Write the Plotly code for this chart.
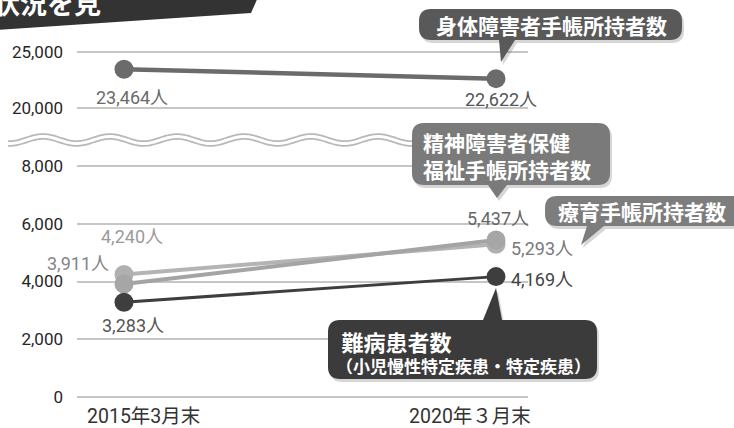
import numpy as np
import plotly.graph_objects as go

W, H = 734, 428

# ---------------- data ----------------
periods = ["2015年3月末", "2020年３月末"]
shintai = [23464, 22622]      # 身体障害者手帳所持者数
seishin = [3911, 5437]        # 精神障害者保健福祉手帳所持者数
ryoiku = [4240, 5293]         # 療育手帳所持者数
nanbyo = [3283, 4169]         # 難病患者数
upper_ticks = [20000, 25000]
lower_ticks = [0, 2000, 4000, 6000, 8000]
unit = "人"
name_shintai = "身体障害者手帳所持者数"
name_seishin = ["精神障害者保健", "福祉手帳所持者数"]
name_ryoiku = "療育手帳所持者数"
name_nanbyo = ["難病患者数", "（小児慢性特定疾患・特定疾患）"]
banner_text = "状況を見"

FONT = "Roboto, 'Noto Sans CJK JP', sans-serif"
JFONT = "'Noto Sans CJK JP', sans-serif"


def px(x):
    return x / W


def py(y):
    return 1 - y / H


def axis_domain(v_a, p_a, v_b, p_b, lo, hi):
    k = (p_b - p_a) / (v_b - v_a)
    p_lo = p_a + (lo - v_a) * k
    p_hi = p_a + (hi - v_a) * k
    return [py(p_lo), py(p_hi)]


up_range = [19000, 25800]
lo_range = [-500, 8500]
up_dom = axis_domain(20000, 108, 25000, 52, *up_range)
lo_dom = axis_domain(0, 397, 8000, 166, *lo_range)

x_l, x_r, x0p, x1p = 77, 528, 124, 496
xr = [-(x0p - x_l) / (x1p - x0p), 1 + (x_r - x1p) / (x1p - x0p)]

fig = go.Figure()

fig.add_trace(go.Scatter(x=periods, y=shintai, yaxis="y", mode="lines+markers",
                         line=dict(color="#6b6b6b", width=4.5),
                         marker=dict(size=19, color="#6b6b6b"), cliponaxis=False,
                         name=name_shintai))
fig.add_trace(go.Scatter(x=periods, y=ryoiku, yaxis="y2", mode="lines+markers",
                         line=dict(color="#b4b4b4", width=4),
                         marker=dict(size=19, color="#b0b0b0"), cliponaxis=False,
                         name=name_ryoiku))
fig.add_trace(go.Scatter(x=periods, y=seishin, yaxis="y2", mode="lines+markers",
                         line=dict(color="#a4a4a4", width=4),
                         marker=dict(size=19, color="#a6a6a6"), cliponaxis=False,
                         name="".join(name_seishin)))
fig.add_trace(go.Scatter(x=periods, y=nanbyo, yaxis="y2", mode="lines+markers",
                         line=dict(color="#3e3e3e", width=3),
                         marker=dict(size=19, color="#3e3e3e"), cliponaxis=False,
                         name=name_nanbyo[0]))

annotations = []

# data labels: (values, index, axis, xshift, yshift, xanchor, color)
label_specs = [
    (shintai, 0, "y", 8, -28, "center", "#6a6a6a"),
    (shintai, 1, "y", 5, -21, "center", "#555555"),
    (ryoiku, 0, "y2", 8, 38, "center", "#9a9a9a"),
    (seishin, 0, "y2", -13, 21, "right", "#858585"),
    (nanbyo, 0, "y2", 9, -23, "center", "#555555"),
    (seishin, 1, "y2", 2, 22, "center", "#666666"),
    (ryoiku, 1, "y2", 13, -4, "left", "#7a7a7a"),
    (nanbyo, 1, "y2", 13, -3, "left", "#444444"),
]
for vals, i, ax, xs, ys, xa, col in label_specs:
    annotations.append(dict(x=periods[i], y=vals[i], xref="x", yref=ax,
                            text=f"{vals[i]:,}{unit}", showarrow=False,
                            xshift=xs, yshift=ys, xanchor=xa, yanchor="middle",
                            font=dict(family=FONT, size=18, color=col)))

# x-axis category labels
for i, xs in zip(range(len(periods)), [19, -26]):
    annotations.append(dict(x=periods[i], y=py(416), xref="x", yref="paper",
                            text=periods[i], showarrow=False, xshift=xs,
                            xanchor="center", yanchor="middle",
                            font=dict(family=FONT, size=19.5, color="#333333")))

shapes = []

# banner
shapes.append(dict(type="path", xref="paper", yref="paper",
                   path=f"M {px(-5)} {py(-5)} L {px(259)} {py(-5)} L {px(251)} {py(13)} L {px(-5)} {py(30)} Z",
                   fillcolor="#333333", line=dict(width=0), layer="above"))
annotations.append(dict(x=px(-9), y=py(24), xref="paper", yref="paper", text=f"<b>{banner_text}</b>",
                        showarrow=False, xanchor="left", yanchor="bottom",
                        font=dict(family=JFONT, size=27, color="white")))

# wavy axis break
wx = np.linspace(8, 416, 240)
wy = 140 - 3.5 * np.cos(2 * np.pi * (wx - 43) / 67)
wpath = "M " + " L ".join(f"{px(a):.5f} {py(b):.5f}" for a, b in zip(wx, wy))
shapes.append(dict(type="path", xref="paper", yref="paper", path=wpath,
                   fillcolor="rgba(0,0,0,0)", line=dict(color="#b8b8b8", width=6.5), layer="above"))
shapes.append(dict(type="path", xref="paper", yref="paper", path=wpath,
                   fillcolor="rgba(0,0,0,0)", line=dict(color="white", width=3), layer="above"))


def callout(x0, y0, x1, y1, r, tail=None, dx=0, dy=0):
    x0, x1, y0, y1 = x0 + dx, x1 + dx, y0 + dy, y1 + dy
    s = f"M {px(x0 + r)} {py(y0)}"
    if tail and tail[0] == "top":
        s += (f" L {px(tail[1] + dx)} {py(y0)} L {px(tail[3] + dx)} {py(tail[4] + dy)}"
              f" L {px(tail[2] + dx)} {py(y0)}")
    s += f" L {px(x1 - r)} {py(y0)} Q {px(x1)} {py(y0)} {px(x1)} {py(y0 + r)}"
    s += f" L {px(x1)} {py(y1 - r)} Q {px(x1)} {py(y1)} {px(x1 - r)} {py(y1)}"
    if tail and tail[0] == "bottom":
        s += (f" L {px(tail[2] + dx)} {py(y1)} L {px(tail[3] + dx)} {py(tail[4] + dy)}"
              f" L {px(tail[1] + dx)} {py(y1)}")
    s += f" L {px(x0 + r)} {py(y1)} Q {px(x0)} {py(y1)} {px(x0)} {py(y1 - r)}"
    s += f" L {px(x0)} {py(y0 + r)} Q {px(x0)} {py(y0)} {px(x0 + r)} {py(y0)} Z"
    return s


boxes = [
    ((419, 9, 682, 40), ("bottom", 499, 515, 501, 62), "#595959"),
    ((412, 123, 610, 185), ("bottom", 488, 507, 497, 198), "#7a7a7a"),
    ((545, 196, 750, 226), ("bottom", 587, 604, 581, 245), "#7d7d7d"),
    ((328, 320, 597, 379), ("top", 483, 502, 496, 288), "#3b3b3b"),
]
for (bx0, by0, bx1, by1), tail, col in boxes:
    shapes.append(dict(type="path", xref="paper", yref="paper",
                       path=callout(bx0, by0, bx1, by1, 12, tail, dx=2, dy=3),
                       fillcolor="rgba(0,0,0,0.16)", line=dict(width=0), layer="above"))
    shapes.append(dict(type="path", xref="paper", yref="paper",
                       path=callout(bx0, by0, bx1, by1, 12, tail),
                       fillcolor=col, line=dict(width=0), layer="above"))

# callout texts
annotations.append(dict(x=px(551), y=py(25), xref="paper", yref="paper",
                        text=f"<b>{name_shintai}</b>", showarrow=False,
                        xanchor="center", yanchor="middle",
                        font=dict(family=JFONT, size=21, color="white")))
annotations.append(dict(x=px(421), y=py(155), xref="paper", yref="paper",
                        text="<b>" + "<br>".join(name_seishin) + "</b>", showarrow=False,
                        xanchor="left", yanchor="middle", align="left",
                        font=dict(family=JFONT, size=21, color="white")))
annotations.append(dict(x=px(556), y=py(211), xref="paper", yref="paper",
                        text=f"<b>{name_ryoiku}</b>", showarrow=False,
                        xanchor="left", yanchor="middle",
                        font=dict(family=JFONT, size=21, color="white")))
annotations.append(dict(x=px(334), y=py(351), xref="paper", yref="paper",
                        text=(f"<b><span style='font-size:22px'>&#8197;{name_nanbyo[0]}</span>"
                              f"<br>{name_nanbyo[1]}</b>"),
                        showarrow=False, xanchor="left", yanchor="middle", align="left",
                        font=dict(family=JFONT, size=17, color="white")))

yaxis_common = dict(tickformat=",", gridcolor="#c6c6c6", gridwidth=2, zeroline=False,
                    showline=False, ticks="", ticklabelstandoff=13, anchor="x",
                    tickfont=dict(family=FONT, size=17, color="#262626"), fixedrange=True)

fig.update_layout(
    width=W, height=H,
    margin=dict(l=0, r=0, t=0, b=0),
    paper_bgcolor="white", plot_bgcolor="white",
    showlegend=False,
    xaxis=dict(type="category", domain=[px(x_l), px(x_r)], range=xr, showgrid=False,
               showticklabels=False, zeroline=False, showline=False, ticks="", fixedrange=True),
    yaxis=dict(domain=up_dom, range=up_range, tickvals=upper_ticks, **yaxis_common),
    yaxis2=dict(domain=lo_dom, range=lo_range, tickvals=lower_ticks, **yaxis_common),
    shapes=shapes,
    annotations=annotations,
)

fig.write_html("out.html")
